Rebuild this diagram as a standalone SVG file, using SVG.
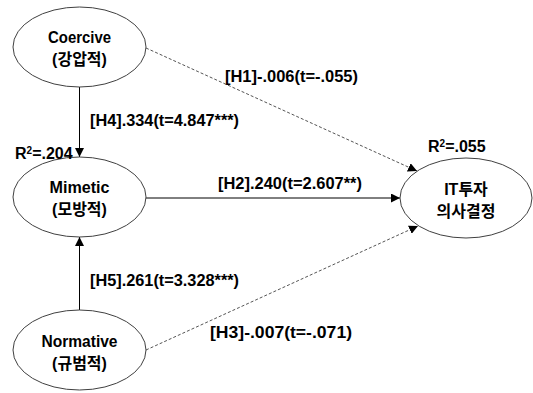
<svg xmlns="http://www.w3.org/2000/svg" width="533" height="393" viewBox="0 0 533 393">
<style>
.node ellipse{fill:#fff;stroke:#404040;stroke-width:1}
text{font-family:"Liberation Sans","Noto Sans CJK KR",sans-serif;font-weight:bold;font-size:16px;fill:#000}
.c{text-anchor:middle}
.e{stroke:#000;stroke-width:1;fill:none}
.d{stroke:#555;stroke-width:1;fill:none;stroke-dasharray:3 2}
</style>
<defs>
<marker id="a" viewBox="0 0 10 10" refX="10" refY="5" markerWidth="9" markerHeight="9" markerUnits="userSpaceOnUse" orient="auto">
<path d="M0,0 L10,5 L0,10 z" fill="#000"/>
</marker>
</defs>
<rect width="533" height="393" fill="#fff"/>
<g id="connectors">
<line class="e" x1="79.5" y1="87" x2="79.5" y2="157" marker-end="url(#a)"/>
<line class="e" x1="79.5" y1="310" x2="79.5" y2="237" marker-end="url(#a)"/>
<line class="e" x1="146" y1="198" x2="400" y2="198" marker-end="url(#a)"/>
<line class="d" x1="146" y1="48" x2="417" y2="171" marker-end="url(#a)"/>
<line class="d" x1="146" y1="350" x2="418" y2="226" marker-end="url(#a)"/>
<text x="225" y="82" textLength="133" lengthAdjust="spacingAndGlyphs">[H1]-.006(t=-.055)</text>
<text x="90" y="126" textLength="149" lengthAdjust="spacingAndGlyphs">[H4].334(t=4.847***)</text>
<text x="218" y="189" textLength="144" lengthAdjust="spacingAndGlyphs">[H2].240(t=2.607**)</text>
<text x="90" y="286" textLength="149" lengthAdjust="spacingAndGlyphs">[H5].261(t=3.328***)</text>
<text x="210" y="338" textLength="142" lengthAdjust="spacingAndGlyphs">[H3]-.007(t=-.071)</text>
</g>
<g id="coercive" class="node">
<ellipse cx="79.5" cy="47" rx="66.5" ry="40"/>
<text class="c" x="79.5" y="43" textLength="63" lengthAdjust="spacingAndGlyphs">Coercive</text>
<text class="c" x="79.5" y="65">(강압적)</text>
</g>
<g id="mimetic" class="node">
<ellipse cx="79.5" cy="197" rx="66.5" ry="40"/>
<text class="c" x="79.5" y="193" textLength="60" lengthAdjust="spacingAndGlyphs">Mimetic</text>
<text class="c" x="79.5" y="215">(모방적)</text>
<text x="15" y="159">R<tspan font-size="10" dy="-5">2</tspan><tspan dy="5">=.204</tspan></text>
</g>
<g id="normative" class="node">
<ellipse cx="79.5" cy="350" rx="66.5" ry="40"/>
<text class="c" x="79.5" y="347" textLength="76" lengthAdjust="spacingAndGlyphs">Normative</text>
<text class="c" x="79.5" y="369">(규범적)</text>
</g>
<g id="it" class="node">
<ellipse cx="466" cy="198" rx="66" ry="40"/>
<text class="c" x="466" y="195">IT투자</text>
<text class="c" x="466" y="217">의사결정</text>
<text x="428" y="152">R<tspan font-size="10" dy="-5">2</tspan><tspan dy="5">=.055</tspan></text>
</g>
</svg>
